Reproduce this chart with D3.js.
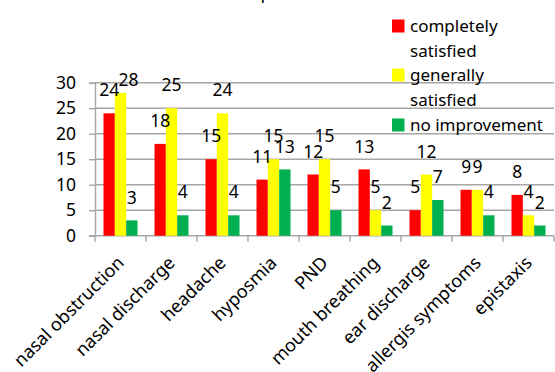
<!DOCTYPE html>
<html>
<head>
<meta charset="utf-8">
<script src="https://cdn.jsdelivr.net/npm/d3@7"></script>
<style>
  body { margin: 0; background: #fff; }
  text { font-family: "Noto Sans", "Open Sans", sans-serif; fill: #000; }
</style>
</head>
<body>
<div id="chart"></div>
<script>
// chart data
var categories = ["nasal obstruction", "nasal discharge", "headache", "hyposmia", "PND",
  "mouth breathing", "ear discharge", "allergis symptoms", "epistaxis"];
var seriesNames = ["completely satisfied", "generally satisfied", "no improvement"];
var completelySatisfied = [24, 18, 15, 11, 12, 13, 5, 9, 8];
var generallySatisfied = [28, 25, 24, 15, 15, 5, 12, 9, 4];
var noImprovement = [3, 4, 4, 13, 5, 2, 7, 4, 2];
var yTicks = [0, 5, 10, 15, 20, 25, 30];
var titleText = "improvement";

var seriesValues = [completelySatisfied, generallySatisfied, noImprovement];
var colors = ["#ff0000", "#ffff00", "#00b050"];

var svgWidth = 555, svgHeight = 372;
var plot = { left: 95, right: 554, top: 82.7, bottom: 235.7 };

var svg = d3.select("#chart").append("svg")
  .attr("width", svgWidth)
  .attr("height", svgHeight);

// scales
var x0 = d3.scaleBand().domain(categories).range([plot.left, plot.right]);
var x1 = d3.scaleBand().domain(d3.range(seriesNames.length))
  .range([0, x0.bandwidth()]).paddingOuter(0.75);
var y = d3.scaleLinear().domain([0, 30]).range([plot.bottom, plot.top]);

// title (cut off at the top, only the descenders show)
svg.append("text")
  .attr("x", 296).attr("y", -1)
  .attr("text-anchor", "middle")
  .attr("font-size", "18px")
  .text(titleText);

// gridlines
svg.append("g").selectAll("line")
  .data(yTicks.filter(d => d > 0))
  .enter().append("line")
  .attr("x1", plot.left).attr("x2", plot.right)
  .attr("y1", d => y(d)).attr("y2", d => y(d))
  .attr("stroke", "#a6a6a6").attr("stroke-width", 1.4);

// y axis
var yAxis = svg.append("g")
  .attr("transform", `translate(${plot.left},0)`)
  .call(d3.axisLeft(y).tickValues(yTicks).tickSize(6).tickPadding(13));
yAxis.selectAll("path, line").attr("stroke", "#a6a6a6").attr("stroke-width", 1.4);
yAxis.selectAll("text").attr("font-size", "17.5px").attr("font-family", null).attr("fill", "#000");

// x axis line and boundary ticks
svg.append("line")
  .attr("x1", plot.left - 6).attr("x2", plot.right)
  .attr("y1", y(0)).attr("y2", y(0))
  .attr("stroke", "#a6a6a6").attr("stroke-width", 1.4);
svg.append("g").selectAll("line")
  .data(d3.range(categories.length + 1))
  .enter().append("line")
  .attr("x1", i => plot.left + i * x0.step())
  .attr("x2", i => plot.left + i * x0.step())
  .attr("y1", y(0)).attr("y2", y(0) + 6)
  .attr("stroke", "#a6a6a6").attr("stroke-width", 1.4);

// bars
var groups = svg.append("g").selectAll("g")
  .data(categories)
  .enter().append("g")
  .attr("transform", d => `translate(${x0(d)},0)`);

groups.selectAll("rect")
  .data((d, ci) => seriesValues.map((vals, si) => ({ si: si, v: vals[ci], ci: ci })))
  .enter().append("rect")
  .attr("x", d => x1(d.si))
  .attr("width", x1.bandwidth())
  .attr("y", d => y(d.v))
  .attr("height", d => y(0) - y(d.v))
  .attr("fill", d => colors[d.si]);

// value labels (the 28 was pushed aside in the original to clear the 24)
groups.selectAll("text")
  .data((d, ci) => seriesValues.map((vals, si) => ({ si: si, v: vals[ci], ci: ci })))
  .enter().append("text")
  .attr("x", d => x1(d.si) + x1.bandwidth() / 2 + (d.ci === 0 && d.si === 1 ? 8 : 0))
  .attr("y", d => y(d.v) - 23 + (d.ci === 0 && d.si === 1 ? 10 : 0))
  .attr("dy", "0.35em")
  .attr("text-anchor", "middle")
  .attr("font-size", "17.5px")
  .text(d => d.v);

// category labels
svg.append("g").selectAll("text")
  .data(categories)
  .enter().append("text")
  .attr("transform", d => `translate(${x0(d) + x0.bandwidth() / 2 + 4.5},264) rotate(-45)`)
  .attr("text-anchor", "end")
  .attr("font-size", "18px")
  .text(d => d);

// legend
var legendRows = [["completely", "satisfied"], ["generally", "satisfied"], ["no improvement"]];
var legendTop = [26, 75, 125];
var legend = svg.append("g");
legendRows.forEach(function(lines, i) {
  legend.append("rect")
    .attr("x", 392).attr("y", legendTop[i] - 6.5)
    .attr("width", 12.5).attr("height", 13)
    .attr("fill", colors[i]);
  lines.forEach(function(t, j) {
    legend.append("text")
      .attr("x", 410).attr("y", legendTop[i] + j * 25)
      .attr("dy", "0.35em")
      .attr("font-size", "17px")
      .text(t);
  });
});
</script>
</body>
</html>
